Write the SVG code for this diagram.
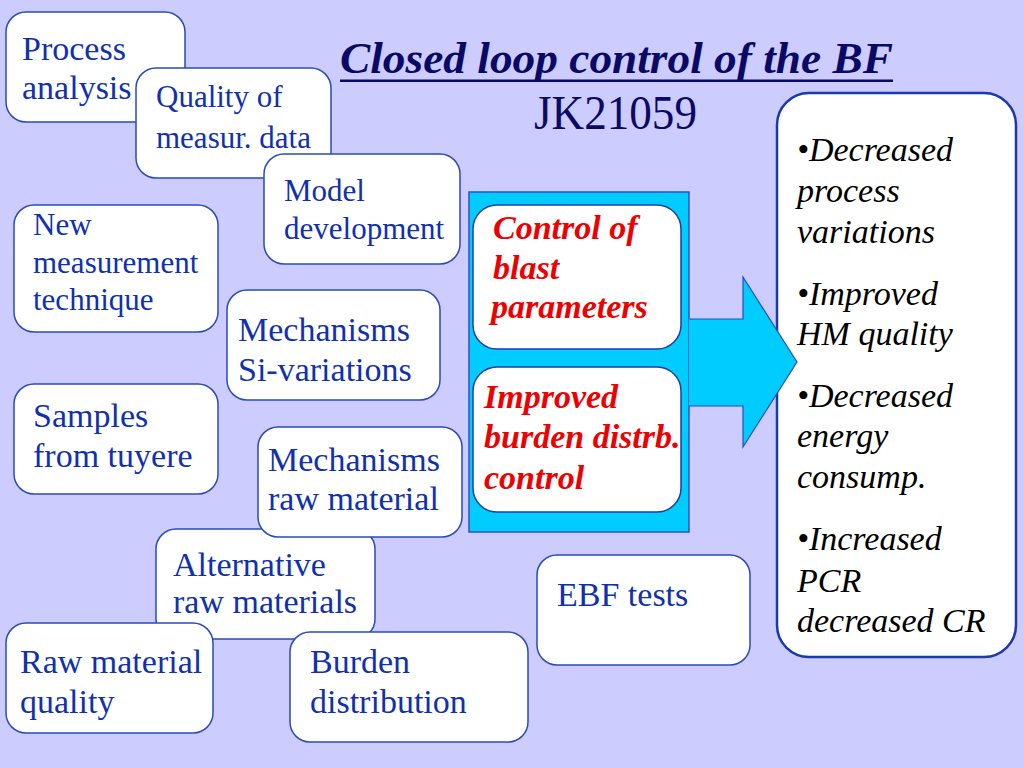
<svg xmlns="http://www.w3.org/2000/svg" width="1024" height="768" viewBox="0 0 1024 768" font-family="Liberation Serif, Times New Roman, DejaVu Serif, serif">
<style>
.bg{fill:#CCCCFF}
.box rect{fill:#FFFFFF;stroke:#2A4BBA;stroke-width:1.5}
.box text{fill:#1030B0;font-size:34px}
.box text.s{font-size:31px}
.red rect{fill:#FFFFFF;stroke:#1F3F9F;stroke-width:1.5}
.red text{fill:#EE0000;font-size:34px;font-weight:bold;font-style:italic}
.res rect{fill:#FFFFFF;stroke:#1A38B0;stroke-width:2.5}
.res text{fill:#000000;font-size:34px;font-style:italic}
.title{fill:#0A0A66}
</style>
<rect class="bg" x="0" y="0" width="1024" height="768"/>

<g id="title">
  <text class="title" x="340" y="73" font-size="44" font-weight="bold" font-style="italic" textLength="553" lengthAdjust="spacingAndGlyphs">Closed loop control of the BF</text>
  <rect x="340" y="79.5" width="553" height="2.5" fill="#0A0A66"/>
  <text class="title" x="534" y="129" font-size="48" textLength="163" lengthAdjust="spacingAndGlyphs">JK21059</text>
</g>

<g id="process-analysis" class="box">
  <rect x="6" y="12" width="179" height="110" rx="20"/>
  <text x="22" y="60">Process</text>
  <text x="22" y="99">analysis</text>
</g>
<g id="quality-of-measur-data" class="box">
  <rect x="136" y="68" width="195" height="110" rx="20"/>
  <text class="s" x="156" y="107">Quality of</text>
  <text class="s" x="156" y="148">measur. data</text>
</g>
<g id="model-development" class="box">
  <rect x="264" y="154" width="196" height="110" rx="20"/>
  <text class="s" x="284" y="201">Model</text>
  <text class="s" x="284" y="239">development</text>
</g>
<g id="new-measurement-technique" class="box">
  <rect x="14" y="205" width="204" height="127" rx="20"/>
  <text class="s" x="33" y="235">New</text>
  <text class="s" x="33" y="273">measurement</text>
  <text class="s" x="33" y="310">technique</text>
</g>
<g id="mechanisms-si-variations" class="box">
  <rect x="227" y="290" width="213" height="110" rx="20"/>
  <text x="238" y="341">Mechanisms</text>
  <text x="238" y="381">Si-variations</text>
</g>
<g id="samples-from-tuyere" class="box">
  <rect x="14" y="384" width="204" height="110" rx="20"/>
  <text x="33" y="427">Samples</text>
  <text x="33" y="467">from tuyere</text>
</g>
<g id="alternative-raw-materials" class="box">
  <rect x="156" y="529" width="219" height="110" rx="20"/>
  <text x="173" y="576">Alternative</text>
  <text x="173" y="613">raw materials</text>
</g>
<g id="mechanisms-raw-material" class="box">
  <rect x="258" y="427" width="204" height="110" rx="20"/>
  <text x="268" y="471">Mechanisms</text>
  <text x="268" y="510">raw material</text>
</g>
<g id="raw-material-quality" class="box">
  <rect x="6" y="623" width="207" height="110" rx="20"/>
  <text x="20" y="673">Raw material</text>
  <text x="20" y="713">quality</text>
</g>
<g id="burden-distribution" class="box">
  <rect x="290" y="632" width="238" height="110" rx="20"/>
  <text x="310" y="673">Burden</text>
  <text x="310" y="713">distribution</text>
</g>
<g id="ebf-tests" class="box">
  <rect x="537" y="555" width="213" height="110" rx="20"/>
  <text x="557" y="606">EBF tests</text>
</g>

<g id="control-panel">
  <rect x="469" y="192" width="220" height="340" fill="#00CCFF" stroke="#3050C0" stroke-width="1.5"/>
</g>
<g id="control-of-blast-parameters" class="red">
  <rect x="473" y="205" width="208" height="144" rx="24"/>
  <text x="493" y="239">Control of</text>
  <text x="493" y="279">blast</text>
  <text x="491" y="318">parameters</text>
</g>
<g id="improved-burden-distrb-control" class="red">
  <rect x="473" y="367" width="208" height="145" rx="24"/>
  <text x="484" y="408">Improved</text>
  <text x="484" y="448">burden distrb.</text>
  <text x="484" y="489">control</text>
</g>

<g id="results" class="res">
  <rect x="777" y="93" width="239" height="564" rx="32"/>
  <text x="797" y="161">•Decreased</text>
  <text x="797" y="202">process</text>
  <text x="797" y="243">variations</text>
  <text x="797" y="305">•Improved</text>
  <text x="797" y="345">HM quality</text>
  <text x="797" y="407">•Decreased</text>
  <text x="797" y="447">energy</text>
  <text x="797" y="488">consump.</text>
  <text x="797" y="550">•Increased</text>
  <text x="797" y="592">PCR</text>
  <text x="797" y="632">decreased CR</text>
</g>

<g id="connectors">
  <polygon points="689,319 743,319 743,277 797,362 743,447 743,406 689,406" fill="#00CCFF"/>
  <polyline points="689,319 743,319 743,277 797,362 743,447 743,406 689,406" fill="none" stroke="#2A4BBA" stroke-width="1.2"/>
</g>
</svg>
